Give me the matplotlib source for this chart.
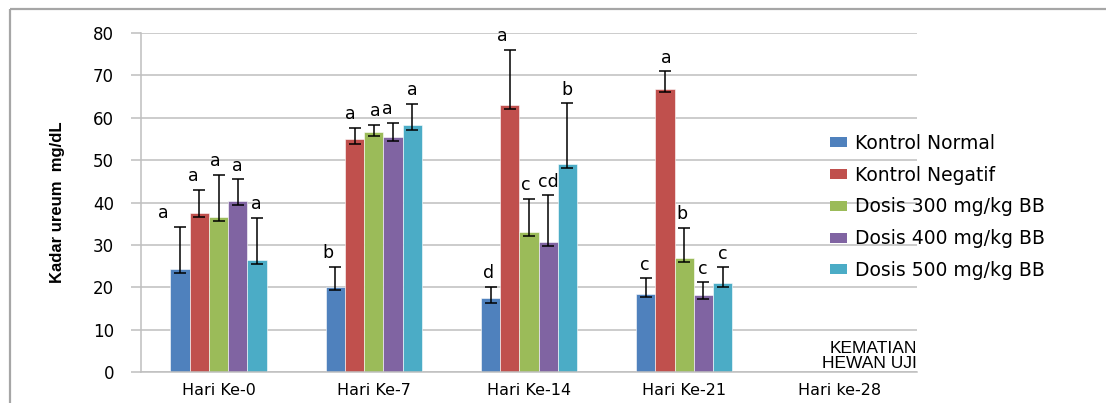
import numpy as np
import matplotlib
matplotlib.use("Agg")
import matplotlib.pyplot as plt
from matplotlib import font_manager
from matplotlib.lines import Line2D
from matplotlib.patches import Patch

# ---------------- data ----------------
categories = ["Hari Ke-0", "Hari Ke-7", "Hari Ke-14", "Hari Ke-21", "Hari ke-28"]
series_names = ["Kontrol Normal", "Kontrol Negatif", "Dosis 300 mg/kg BB",
                "Dosis 400 mg/kg BB", "Dosis 500 mg/kg BB"]

kontrol_normal  = [24.4, 20.1, 17.5, 18.5, np.nan]
kontrol_negatif = [37.6, 55.0, 63.0, 66.8, np.nan]
dosis_300       = [36.6, 56.7, 33.0, 26.9, np.nan]
dosis_400       = [40.3, 55.5, 30.7, 18.2, np.nan]
dosis_500       = [26.4, 58.3, 49.1, 20.9, np.nan]

err_up_normal   = [9.9, 4.7, 2.6, 3.6, np.nan]
err_up_negatif  = [5.4, 2.6, 13.1, 4.2, np.nan]
err_up_300      = [9.9, 1.7, 7.9, 7.2, np.nan]
err_up_400      = [5.2, 3.3, 11.0, 3.0, np.nan]
err_up_500      = [10.0, 5.0, 14.3, 3.8, np.nan]

err_lo_normal   = [1.0, 0.8, 1.1, 0.9, np.nan]
err_lo_negatif  = [1.0, 1.1, 0.9, 0.7, np.nan]
err_lo_300      = [0.9, 1.0, 0.8, 0.9, np.nan]
err_lo_400      = [0.8, 1.0, 1.0, 1.0, np.nan]
err_lo_500      = [0.8, 1.1, 1.0, 0.8, np.nan]

letters_normal  = ["a", "b", "d", "c", ""]
letters_negatif = ["a", "a", "a", "a", ""]
letters_300     = ["a", "a", "c", "b", ""]
letters_400     = ["a", "a", "cd", "c", ""]
letters_500     = ["a", "a", "b", "c", ""]

note_text = "KEMATIAN\nHEWAN UJI"
y_label = "Kadar ureum  mg/dL"

# ---------------- style ----------------
colors = ["#4F81BD", "#C0504D", "#9BBB59", "#8064A2", "#4BACC6"]
# small horizontal nudges (pixels) for the significance letters
letter_dx = [[-17, -7, -2, -1, 0],
             [-6, -4, -7, 1, 0],
             [-3, 2, -3, -2, 0],
             [-1, -6, 0, -1, 0],
             [-1, 0, -1, 0, 0]]

names = {f.name for f in font_manager.fontManager.ttflist}
narrow = "Liberation Sans Narrow" if "Liberation Sans Narrow" in names else "Liberation Sans"

plt.rcParams["font.family"] = ["DejaVu Sans"]

W, H = 1110, 403
fig = plt.figure(figsize=(W / 100, H / 100), dpi=100)
ax = fig.add_axes([141 / W, 1 - 372 / H, (917 - 141) / W, (372 - 33) / H])

values = [kontrol_normal, kontrol_negatif, dosis_300, dosis_400, dosis_500]
ups = [err_up_normal, err_up_negatif, err_up_300, err_up_400, err_up_500]
los = [err_lo_normal, err_lo_negatif, err_lo_300, err_lo_400, err_lo_500]
letters = [letters_normal, letters_negatif, letters_300, letters_400, letters_500]

x = np.arange(len(categories))
bw = 0.124
grid_c = "#BFBFBF"

for i, (vals, up, lo, lab) in enumerate(zip(values, ups, los, letters)):
    pos = x + (i - 2) * bw
    v = np.array(vals, dtype=float)
    ax.bar(pos, v, width=bw, color=colors[i], edgecolor="white", linewidth=0.4,
           zorder=2, label=series_names[i])
    ax.errorbar(pos, v, yerr=[lo, up], fmt="none", ecolor="black",
                elinewidth=1.1, capsize=4.3, capthick=1.1, zorder=3)
    for j, t in enumerate(lab):
        if t and not np.isnan(v[j]):
            ax.annotate(t, (pos[j], v[j] + up[j] + 3.2), xytext=(letter_dx[i][j], 0),
                        textcoords="offset pixels", ha="center", va="center",
                        fontsize=12.5, color="black", zorder=4)

ax.set_xlim(-0.5, len(categories) - 0.5)
ax.set_ylim(0, 80)
ax.set_yticks(np.arange(0, 81, 10))
ax.set_xticks(x)
ax.set_xticklabels(categories, fontsize=11.5)
ax.tick_params(axis="x", length=0, pad=8)
ax.tick_params(axis="y", length=7.5, width=1.1, color=grid_c, pad=12, labelsize=12)
ax.yaxis.grid(True, color=grid_c, linewidth=1.1, zorder=0)
ax.set_axisbelow(True)
for s in ["top", "right"]:
    ax.spines[s].set_visible(False)
ax.spines["left"].set_color(grid_c)
ax.spines["left"].set_linewidth(1.1)
ax.spines["bottom"].set_color(grid_c)
ax.spines["bottom"].set_linewidth(1.1)

ax.set_ylabel(y_label, fontsize=12, fontweight="bold", family=narrow, labelpad=20)

# note for the missing last group (text bottom-right of plot area)
ax.text(917 / W, 1 - 356 / H, note_text, transform=fig.transFigure, ha="right",
        va="center", fontsize=12.5, linespacing=0.98, family="Liberation Sans")

handles = [Patch(facecolor=c, edgecolor="none") for c in colors]
fig.legend(handles, series_names, loc="center left", bbox_to_anchor=(830 / W, 1 - 207 / H),
           frameon=False, fontsize=13.5, handlelength=0.9, handleheight=0.45,
           handletextpad=0.45, labelspacing=0.68, borderpad=0, borderaxespad=0)

# chart-area border (left and top only)
border_c = "#A6A6A6"
fig.add_artist(Line2D([10 / W, 10 / W], [0, 1 - 9 / H], transform=fig.transFigure,
                      color=border_c, linewidth=1.6, solid_capstyle="butt"))
fig.add_artist(Line2D([10 / W, 1106 / W], [1 - 9 / H, 1 - 9 / H], transform=fig.transFigure,
                      color=border_c, linewidth=1.6, solid_capstyle="butt"))

fig.savefig("out.png", dpi=100)
